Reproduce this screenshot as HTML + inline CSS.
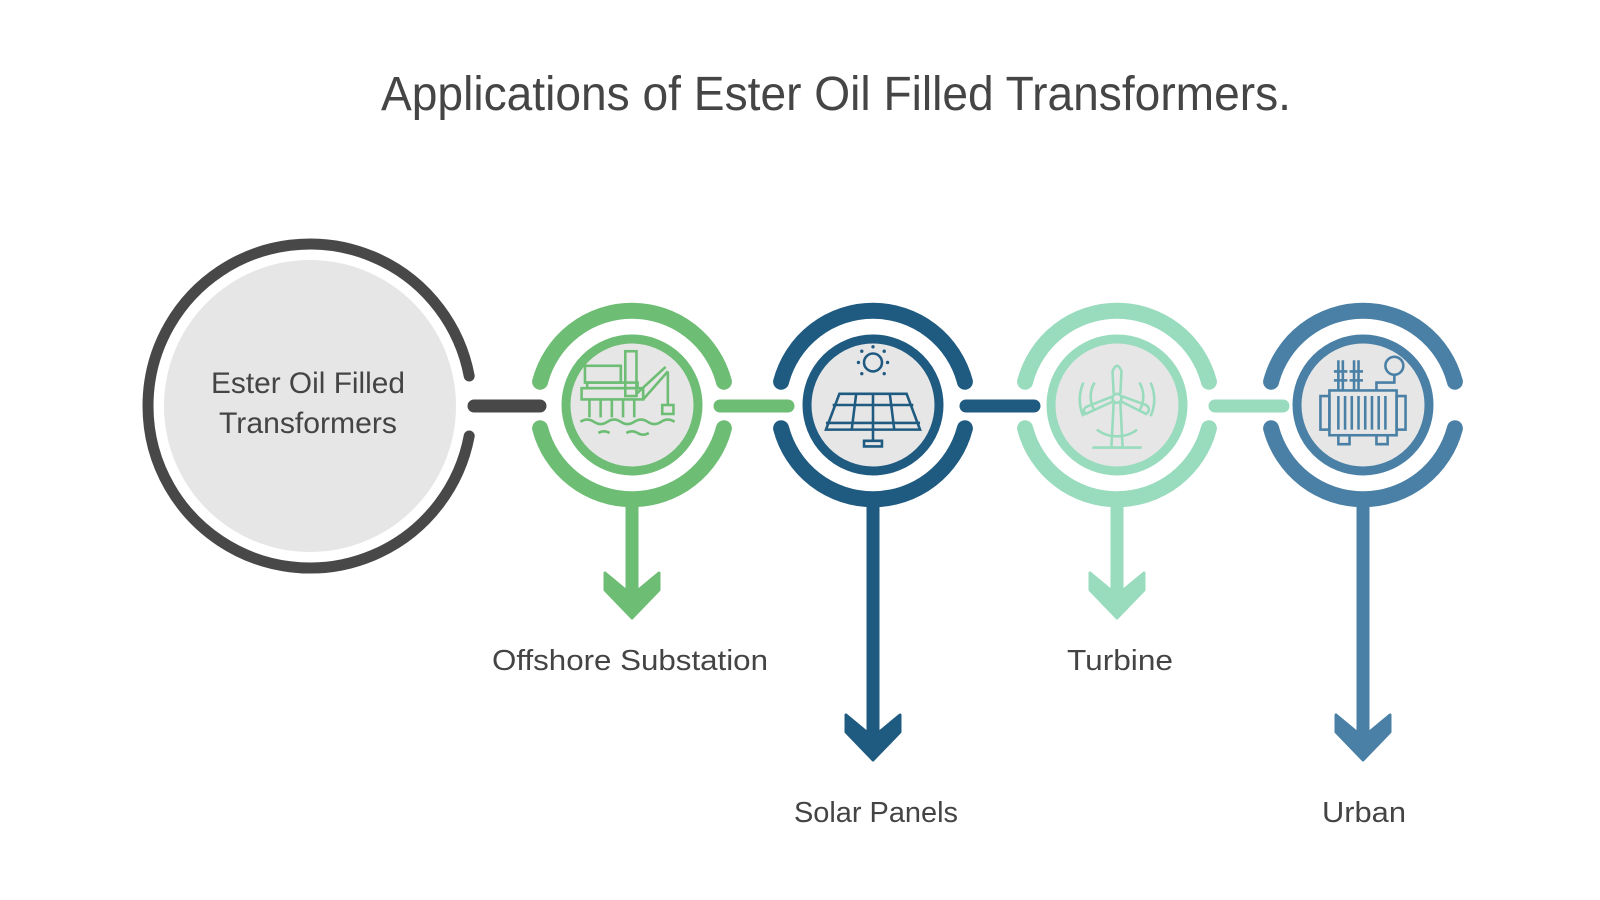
<!DOCTYPE html>
<html><head><meta charset="utf-8"><style>html,body{margin:0;padding:0;background:#fff}svg{display:block}</style></head>
<body>
<svg width="1600" height="900" viewBox="0 0 1600 900" xmlns="http://www.w3.org/2000/svg" font-family="Liberation Sans, sans-serif">
<rect width="1600" height="900" fill="#fff"/>
<text x="836" y="110" font-size="48" fill="#454545" text-anchor="middle" textLength="910" lengthAdjust="spacingAndGlyphs">Applications of Ester Oil Filled Transformers.</text>

<!-- big circle -->
<circle cx="310" cy="406" r="146" fill="#e6e6e6"/>
<path d="M469.2,376 A162 162 0 1 0 469.2,436" fill="none" stroke="#484848" stroke-width="11" stroke-linecap="round"/>
<text x="308" y="393" font-size="30" fill="#444" text-anchor="middle" textLength="194" lengthAdjust="spacingAndGlyphs">Ester Oil Filled</text>
<text x="308" y="433" font-size="30" fill="#444" text-anchor="middle" textLength="178" lengthAdjust="spacingAndGlyphs">Transformers</text>

<!-- connectors -->
<g stroke-width="13" stroke-linecap="round">
<line x1="474" y1="406" x2="540" y2="406" stroke="#484848"/>
<line x1="720" y1="406" x2="788" y2="406" stroke="#6dbd74"/>
<line x1="966" y1="406" x2="1034" y2="406" stroke="#1f5a80"/>
<line x1="1215" y1="406" x2="1283" y2="406" stroke="#98dbbd"/>
</g>

<defs>
<path id="ring" d="M-91.9,-23.3 A95 95 0 0 1 91.9,-23.3 M-91.9,23.3 A95 95 0 0 0 91.9,23.3"/>
</defs>

<!-- green -->
<g transform="translate(632,405)">
<use href="#ring" fill="none" stroke="#6dbd74" stroke-width="16" stroke-linecap="round"/>
<circle r="66" fill="#e6e6e6" stroke="#6dbd74" stroke-width="9"/>
<rect x="-6.5" y="100" width="13" height="90" fill="#6dbd74"/>
<polygon points="-6.5,185 -27,168 -27,185 0,213 27,185 27,168 6.5,185" fill="#6dbd74" stroke="#6dbd74" stroke-width="3" stroke-linejoin="round"/>
<g fill="none" stroke="#6dbd74" stroke-width="2.3" transform="scale(1.12)">
<rect x="-42" y="-35" width="32" height="15"/><rect x="-6" y="-48" width="10" height="40"/>
<line x1="4" y1="-10" x2="30" y2="-34"/><line x1="10" y1="-5" x2="32" y2="-30"/><line x1="32" y1="-30" x2="32" y2="0"/><rect x="27" y="0" width="10" height="8"/>
<rect x="-45" y="-15" width="55" height="10"/><rect x="-40" y="-20" width="45" height="5"/>
<path d="M-38,-5 v16 M-28,-5 v16 M-18,-5 v16 M-8,-5 v16 M2,-5 v16"/>
<path d="M-46,15 q6,-4 12,0 t12,0 t12,0 t12,0 t12,0 t12,0 t12,0"/>
<path d="M-30,25 q5,-3 10,0 M-5,25 q5,-3 10,0 t10,0"/>
</g>
</g>
<!-- dark blue -->
<g transform="translate(873,405)">
<use href="#ring" fill="none" stroke="#1f5a80" stroke-width="16" stroke-linecap="round"/>
<circle r="66" fill="#e6e6e6" stroke="#1f5a80" stroke-width="9"/>
<rect x="-6.5" y="100" width="13" height="232" fill="#1f5a80"/>
<polygon points="-6.5,327 -27,310 -27,327 0,355 27,327 27,310 6.5,327" fill="#1f5a80" stroke="#1f5a80" stroke-width="3" stroke-linejoin="round"/>
<g transform="scale(1.12)">
<g fill="none" stroke="#1f5a80" stroke-width="2.3">
<circle cx="0" cy="-38" r="8"/>
<path d="M-30,-10 H30 L42,22 H-42 Z M-42,16 H42 M-36,0 H36 M-15,-10 L-19,22 M0,-10 V22 M15,-10 L19,22 M0,22 V32 M-8,32 H8 V37 H-8 Z"/>
</g>
<g fill="#1f5a80"><circle cx="0" cy="-52" r="1.5"/><circle cx="-13" cy="-38" r="1.5"/><circle cx="13" cy="-38" r="1.5"/><circle cx="-10" cy="-48" r="1.5"/><circle cx="10" cy="-48" r="1.5"/><circle cx="-10" cy="-28" r="1.5"/><circle cx="10" cy="-28" r="1.5"/></g>
</g>
</g>
<!-- mint -->
<g transform="translate(1117,405)">
<use href="#ring" fill="none" stroke="#98dbbd" stroke-width="16" stroke-linecap="round"/>
<circle r="66" fill="#e6e6e6" stroke="#98dbbd" stroke-width="9"/>
<rect x="-6.5" y="100" width="13" height="90" fill="#98dbbd"/>
<polygon points="-6.5,185 -27,168 -27,185 0,213 27,185 27,168 6.5,185" fill="#98dbbd" stroke="#98dbbd" stroke-width="3" stroke-linejoin="round"/>
<g fill="none" stroke="#98dbbd" stroke-width="2.3" transform="scale(1.12)">
<circle cx="0" cy="-6" r="4"/>
<path d="M-3,-10 L-4,-30 Q0,-40 4,-30 L3,-10 M-4,-3 L-28,8 Q-32,4 -26,1 L-3,-8 M4,-3 L26,8 Q31,4 26,0 L4,-8 M-3,-2 L-5,38 M3,-2 L5,38 M-22,38 H22"/>
<path d="M-30,-20 A36 36 0 0 0 -30,10 M30,-20 A36 36 0 0 1 30,10 M-20,-20 A24 24 0 0 0 -20,5 M20,-20 A24 24 0 0 1 20,5 M-18,22 A30 30 0 0 0 18,22"/>
</g>
</g>
<!-- steel blue -->
<g transform="translate(1363,405)">
<use href="#ring" fill="none" stroke="#4a80a5" stroke-width="16" stroke-linecap="round"/>
<circle r="66" fill="#e6e6e6" stroke="#4a80a5" stroke-width="9"/>
<rect x="-6.5" y="100" width="13" height="232" fill="#4a80a5"/>
<polygon points="-6.5,327 -27,310 -27,327 0,355 27,327 27,310 6.5,327" fill="#4a80a5" stroke="#4a80a5" stroke-width="3" stroke-linejoin="round"/>
<g fill="none" stroke="#4a80a5" stroke-width="2.3" transform="scale(1.12)">
<rect x="-30" y="-13" width="60" height="40"/><rect x="-38" y="-8" width="8" height="30"/><rect x="30" y="-8" width="8" height="30"/>
<path d="M-22,-8 V22 M-16,-8 V22 M-10,-8 V22 M-4,-8 V22 M2,-8 V22 M8,-8 V22 M14,-8 V22 M20,-8 V22"/>
<path d="M-22,-13 V-40 M-18,-40 V-13 M-26,-30 H-14 M-26,-22 H-14 M-8,-13 V-40 M-4,-40 V-13 M-12,-30 H0 M-12,-22 H0"/>
<circle cx="28" cy="-35" r="8"/><path d="M28,-27 V-20 H12 V-13"/>
<path d="M-22,27 V35 H-12 V27 M12,27 V35 H22 V27"/>
</g>
</g>

<g font-size="29" fill="#444" text-anchor="middle">
<text x="630" y="670" textLength="276" lengthAdjust="spacingAndGlyphs">Offshore Substation</text>
<text x="876" y="822" textLength="164" lengthAdjust="spacingAndGlyphs">Solar Panels</text>
<text x="1120" y="670" textLength="106" lengthAdjust="spacingAndGlyphs">Turbine</text>
<text x="1364" y="822" textLength="84" lengthAdjust="spacingAndGlyphs">Urban</text>
</g>
</svg>
</body></html>
